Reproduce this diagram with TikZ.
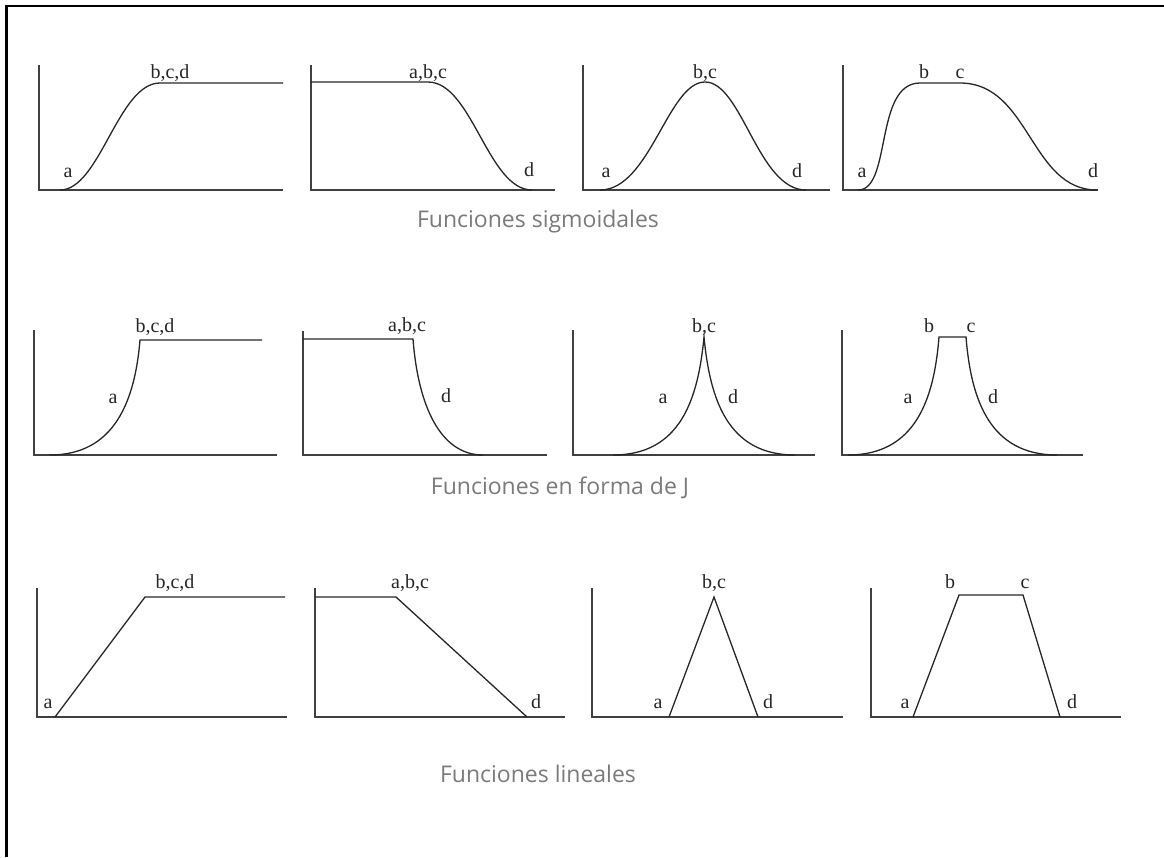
\documentclass[tikz,border=0pt]{standalone}
\usepackage{fontspec}
\newfontfamily\capfont{Open Sans}
\newfontfamily\lblfont{Liberation Serif}
\begin{document}
\begin{tikzpicture}[x=1pt,y=-1pt,
  axisline/.style={line width=1.3pt,color=black!75},
  curveline/.style={line width=1.3pt,color=black!85},
  lbl/.style={anchor=base,inner sep=0pt,font=\lblfont\fontsize{20}{22}\selectfont,text=black!85},
  captxt/.style={anchor=base,inner sep=0pt,font=\capfont\fontsize{23}{26}\selectfont,text=black!52},
  borderline/.style={line width=2.4pt,color=black}]
\useasboundingbox (0,0) rectangle (1164,857);
\draw[borderline] (6.5,857) -- (6.5,6) -- (1164,6);

% ---------- Row 1: sigmoidal ----------
% plot 1
\draw[axisline] (39,65) -- (39,190) -- (283,190);
\draw[curveline] (60,190) .. controls (100,190) and (118,83) .. (160,83) -- (283,83);
\node[lbl] (r1p1a) at (68,177) {a};
\node[lbl] (r1p1b) at (170,78) {b,c,d};
% plot 2
\draw[axisline] (311,65) -- (311,190) -- (555,190);
\draw[curveline] (311,82) -- (428,82) .. controls (472,82) and (488,190) .. (532,190);
\node[lbl] (r1p2a) at (428,78) {a,b,c};
\node[lbl] (r1p2d) at (529,176) {d};
% plot 3
\draw[axisline] (583,65) -- (583,190) -- (830,190);
\draw[curveline] (600,190) .. controls (650,190) and (668,82) .. (705,82)
  .. controls (742,82) and (758,190) .. (806,190);
\node[lbl] (r1p3a) at (606,177) {a};
\node[lbl] (r1p3b) at (705,78) {b,c};
\node[lbl] (r1p3d) at (797,177) {d};
% plot 4
\draw[axisline] (843,65) -- (843,190) -- (1098,190);
\draw[curveline] (858,190) .. controls (892,190) and (874,83) .. (920,83) -- (960,83)
  .. controls (1030,83) and (1030,190) .. (1097,190);
\node[lbl] (r1p4a) at (862,177) {a};
\node[lbl] (r1p4b) at (924,78) {b};
\node[lbl] (r1p4c) at (960,78) {c};
\node[lbl] (r1p4d) at (1093,177) {d};
\node[captxt] (cap1) at (538,227) {Funciones sigmoidales};

% ---------- Row 2: J-shaped ----------
% plot 1
\draw[axisline] (34,330) -- (34,455) -- (277,455);
\draw[curveline] (50,455) .. controls (115,455) and (135,400) .. (140,340) -- (262,340);
\node[lbl] (r2p1a) at (113,403) {a};
\node[lbl] (r2p1b) at (155,332) {b,c,d};
% plot 2
\draw[axisline] (303,331) -- (303,455) -- (547,455);
\draw[curveline] (303,339) -- (413,339) .. controls (418,405) and (440,455) .. (483,455);
\node[lbl] (r2p2a) at (407,331) {a,b,c};
\node[lbl] (r2p2d) at (446,402) {d};
% plot 3
\draw[axisline] (573,330) -- (573,455) -- (815,455);
\draw[curveline] (613,455) .. controls (680,455) and (698,400) .. (704,337)
  .. controls (710,400) and (728,455) .. (795,455);
\node[lbl] (r2p3a) at (663,403) {a};
\node[lbl] (r2p3b) at (704,332) {b,c};
\node[lbl] (r2p3d) at (733,403) {d};
% plot 4
\draw[axisline] (842,330) -- (842,455) -- (1083,455);
\draw[curveline] (848,455) .. controls (915,455) and (934,400) .. (939,337) -- (966,337)
  .. controls (971,400) and (990,455) .. (1057,455);
\node[lbl] (r2p4a) at (908,403) {a};
\node[lbl] (r2p4b) at (929,332) {b};
\node[lbl] (r2p4c) at (971,332) {c};
\node[lbl] (r2p4d) at (993,403) {d};
\node[captxt] (cap2) at (560,494) {Funciones en forma de J};

% ---------- Row 3: linear ----------
% plot 1
\draw[axisline] (37,588) -- (37,717) -- (287,717);
\draw[curveline] (55,717) -- (145,597) -- (285,597);
\node[lbl] (r3p1a) at (48,708) {a};
\node[lbl] (r3p1b) at (175,588) {b,c,d};
% plot 2
\draw[axisline] (315,588) -- (315,717) -- (565,717);
\draw[curveline] (315,597) -- (396,597) -- (527,717);
\node[lbl] (r3p2a) at (410,588) {a,b,c};
\node[lbl] (r3p2d) at (536,708) {d};
% plot 3
\draw[axisline] (592,588) -- (592,717) -- (843,717);
\draw[curveline] (669,717) -- (714,597) -- (758,717);
\node[lbl] (r3p3a) at (658,708) {a};
\node[lbl] (r3p3b) at (714,588) {b,c};
\node[lbl] (r3p3d) at (768,708) {d};
% plot 4
\draw[axisline] (871,588) -- (871,717) -- (1121,717);
\draw[curveline] (913,717) -- (959,595) -- (1023,595) -- (1060,717);
\node[lbl] (r3p4a) at (905,708) {a};
\node[lbl] (r3p4b) at (950,588) {b};
\node[lbl] (r3p4c) at (1025,588) {c};
\node[lbl] (r3p4d) at (1072,708) {d};
\node[captxt] (cap3) at (538,782) {Funciones lineales};
\end{tikzpicture}
\end{document}
